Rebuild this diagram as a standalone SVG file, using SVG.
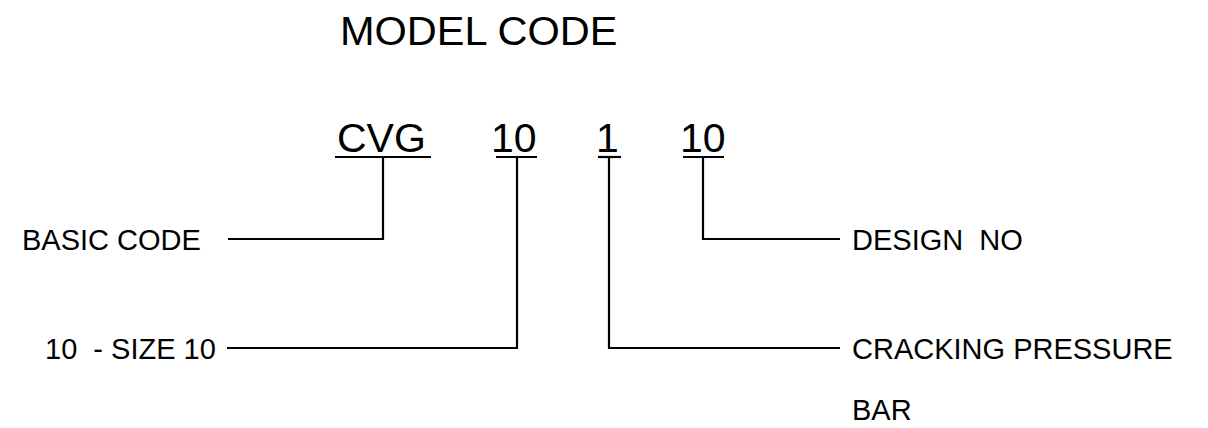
<svg xmlns="http://www.w3.org/2000/svg" width="1208" height="428" viewBox="0 0 1208 428">
<style>
text{font-family:"Liberation Sans",Arial,sans-serif;fill:#000;white-space:pre}
.big{font-size:41px}
.ttl{font-size:41.5px}
.lbl{font-size:29px}
.ln{stroke:#000;stroke-width:2.2;fill:none}
</style>
<rect width="1208" height="428" fill="#fff"/>
<g id="title"><text class="ttl" x="340" y="45">MODEL CODE</text></g>
<g id="code-cvg"><text class="big" x="337" y="152">CVG</text><line class="ln" x1="335" y1="157" x2="431" y2="157"/></g>
<g id="code-size"><text class="big" x="491" y="152">10</text><line class="ln" x1="496" y1="157" x2="537" y2="157"/></g>
<g id="code-pressure"><text class="big" x="596" y="152">1</text><line class="ln" x1="598" y1="157" x2="621" y2="157"/></g>
<g id="code-design"><text class="big" x="680" y="152">10</text><line class="ln" x1="683" y1="157" x2="724" y2="157"/></g>
<g id="lbl-basic"><text class="lbl" x="22" y="250">BASIC CODE</text></g>
<g id="lbl-size"><text class="lbl" x="45" y="359">10  - SIZE 10</text></g>
<g id="lbl-design"><text class="lbl" x="852" y="250">DESIGN  NO</text></g>
<g id="lbl-pressure"><text class="lbl" x="852" y="359">CRACKING PRESSURE</text><text class="lbl" x="852" y="420">BAR</text></g>
<g id="connectors">
<polyline class="ln" points="383,157 383,239 228,239"/>
<polyline class="ln" points="517,157 517,348 227,348"/>
<polyline class="ln" points="609,157 609,348 840,348"/>
<polyline class="ln" points="703,157 703,239 840,239"/>
</g>
</svg>
